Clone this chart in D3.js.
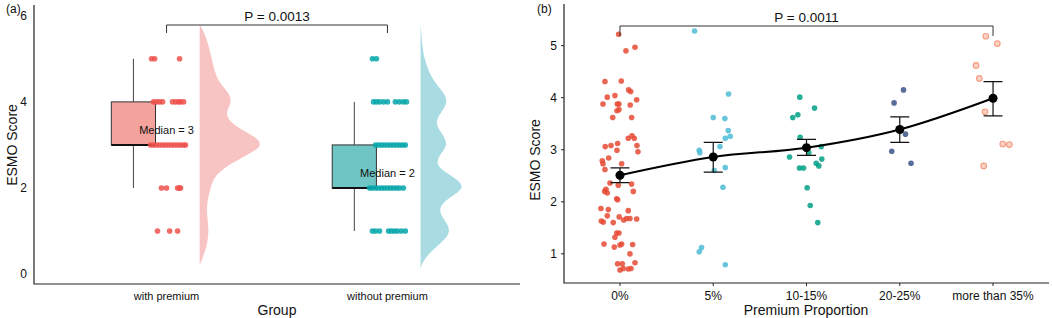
<!DOCTYPE html>
<html>
<head>
    <title>ESMO Score by Premium</title>
    <script src="https://d3js.org/d3.v7.min.js"></script>
    <style>
        body { margin: 0; background: #fff; font-family: Arial, "Liberation Sans", sans-serif; }
        svg { display: block; }
        text { fill: #111; }
        .tick-label { font-size: 11px; }
        .tick-label-b { font-size: 12px; }
        .axis-title { font-size: 14px; }
    </style>
</head>
<body>
<div id="chart"></div>
<script>
// ---------- panel (a) data ----------
const groupsA = ['with premium', 'without premium'];
const boxLow = [2, 1];
const boxQ1 = [3, 2];
const boxMedian = [3, 2];
const boxQ3 = [4, 3];
const boxHigh = [5, 4];
const yTicksA = [0, 2, 4, 6];
const pValueA = 'P = 0.0013';

// jitter (fraction of category step) for each score value
const withPremiumPts = {
    5: [-0.068, -0.054, 0.059],
    4: [-0.059, -0.045, -0.032, -0.018, 0.027, 0.041, 0.054, 0.063, 0.077],
    3: [-0.072, -0.059, -0.045, -0.032, -0.018, -0.005, 0.009, 0.023, 0.036, 0.05, 0.063, 0.077, 0.086],
    2: [-0.023, 0, 0.05, 0.059, 0.063],
    1: [-0.041, 0.014, 0.05]
};
const withoutPremiumPts = {
    5: [-0.068, -0.05],
    4: [-0.063, -0.05, -0.036, -0.018, 0, 0.036, 0.054, 0.072, 0.086],
    3: [-0.054, -0.041, -0.027, -0.014, 0, 0.014, 0.027, 0.041, 0.054, 0.068, 0.081],
    2: [-0.081, -0.068, -0.054, -0.041, -0.027, -0.014, 0, 0.014, 0.027, 0.041, 0.054, 0.072],
    1: [-0.068, -0.054, -0.036, 0.005, 0.018, 0.032, 0.045, 0.063, 0.081]
};

// half-violin densities (relative width) read at score values
const densityWithV = [0.2, 0.5, 0.75, 1, 1.25, 1.5, 1.75, 2, 2.25, 2.5, 2.75, 3, 3.25, 3.5, 3.75, 4, 4.25, 4.5, 5, 5.5, 5.8];
const densityWith  = [0, 5, 8, 9, 8, 7, 8, 11, 14, 26, 46, 66, 51, 31, 25, 33, 28, 17, 12, 7, 0];
const densityWithoutV = [0.1, 0.25, 0.5, 0.75, 1, 1.25, 1.5, 1.75, 2, 2.25, 2.5, 2.75, 3, 3.25, 3.5, 3.75, 4, 4.25, 4.5, 5, 5.5, 5.8];
const densityWithout  = [0, 1, 9, 22, 31, 24, 17, 26, 46, 34, 15, 18, 28, 22, 14, 20, 28, 22, 12, 3, 1, 0];

// ---------- panel (b) data ----------
const groupsB = ['0%', '5%', '10-15%', '20-25%', 'more than 35%'];
const meansB = [2.51, 2.86, 3.04, 3.39, 3.99];
const lowerB = [2.37, 2.57, 2.89, 3.14, 3.65];
const upperB = [2.65, 3.14, 3.20, 3.63, 4.31];
const yTicksB = [1, 2, 3, 4, 5];
const pValueB = 'P = 0.0011';

// [score, jitter as fraction of category step]
const pts0 = [[5.22,-0.014],[4.90,0.064],[4.97,0.161],[4.31,-0.161],[4.32,0.014],[4.01,-0.136],[4.04,-0.054],
    [4.15,0.093],[4.12,0.115],[3.96,0.179],[3.88,-0.182],[3.88,-0.029],[3.88,-0.011],[3.86,0.11],[3.75,-0.032],
    [3.77,-0.011],[3.62,-0.078],[3.62,0.125],[3.22,0.089],[3.27,0.129],[3.22,0.153],[3.06,-0.158],[3.08,-0.096],
    [3.12,-0.025],[3.08,0.182],[2.99,-0.032],[2.96,0.193],[2.84,-0.121],[2.79,-0.19],[2.73,-0.182],[2.73,0.018],
    [2.62,-0.161],[2.36,-0.107],[2.32,-0.018],[2.34,0.125],[2.24,-0.15],[2.20,-0.164],[2.17,-0.136],[2.20,0.143],
    [2.06,-0.035],[2.04,-0.025],[1.87,-0.204],[1.85,-0.125],[1.83,0.089],[1.73,-0.136],[1.71,-0.008],[1.68,0.107],
    [1.65,0.04],[1.68,0.072],[1.67,0.179],[1.63,-0.2],[1.61,-0.179],[1.60,-0.072],[1.40,-0.035],[1.40,-0.011],
    [1.32,-0.054],[1.17,0],[1.19,0.018],[1.13,-0.061],[1.19,-0.171],[1.18,0.136],[1.00,0.107],[0.81,-0.025],
    [0.81,0.025],[0.83,0.161],[0.69,0],[0.72,0.035],[0.71,0.089],[0.72,0.118]];
const pts5 = [[5.28,-0.2],[4.07,0.164],[3.62,0],[3.60,0.125],[3.37,0.161],[3.26,0.182],[3.22,0.129],[3.06,0.072],
    [2.99,-0.15],[2.94,-0.143],[2.60,0.011],[2.66,0.129],[2.28,0.104],[1.04,-0.15],[1.12,-0.125],[0.79,0.129]];
const pts10 = [[4.01,-0.072],[3.80,0.086],[3.62,-0.147],[3.67,-0.093],[3.24,-0.068],[3.06,0.158],[2.94,0.025],
    [2.86,-0.182],[2.82,0.164],[2.74,0.104],[2.69,0.132],[2.65,-0.075],[2.65,-0.032],[2.27,0.007],[1.93,0.04],[1.60,0.121]];
const pts20 = [[4.15,0.04],[3.90,-0.061],[3.30,0.061],[2.97,-0.086],[2.74,0.121]];
const pts35 = [[5.18,-0.078],[5.04,0.046],[4.62,-0.182],[4.37,-0.147],[3.73,-0.086],[3.11,0.104],[3.10,0.175],[2.69,-0.1]];
const pointsB = [pts0, pts5, pts10, pts20, pts35];

// ---------- drawing ----------
const W = 1052, H = 318;
const svg = d3.select('#chart').append('svg').attr('width', W).attr('height', H);

// ===== panel (a) =====
const xA = d3.scalePoint().domain(groupsA).range([34, 520]).padding(0.6);
const yA = d3.scaleLinear().domain([-0.23, 6.25]).range([284, 5]);
const stepA = xA.step();
const boxFill = ['#F4A29C', '#6EC5C4'];
const ptColorA = ['#EF514C', '#06A7AA'];
const densFill = ['#F8C4C3', '#A9DBE3'];

const gA = svg.append('g');

// densities
[[densityWithV, densityWith], [densityWithoutV, densityWithout]].forEach(([vals, ws], i) => {
    const base = xA(groupsA[i]) + 0.15 * stepA;
    const area = d3.area()
        .y(d => yA(d[0]))
        .x0(base)
        .x1(d => base + d[1])
        .curve(d3.curveBasis);
    gA.append('path')
        .datum(vals.map((v, k) => [v, ws[k]]))
        .attr('d', area)
        .attr('fill', densFill[i]);
});

// boxes
groupsA.forEach((g, i) => {
    const cx = xA(g) - 0.15 * stepA;
    const bw = 0.2 * stepA;
    gA.append('line')
        .attr('x1', cx).attr('x2', cx)
        .attr('y1', yA(boxHigh[i])).attr('y2', yA(boxQ3[i]))
        .attr('stroke', '#444').attr('stroke-width', 1);
    gA.append('line')
        .attr('x1', cx).attr('x2', cx)
        .attr('y1', yA(boxQ1[i])).attr('y2', yA(boxLow[i]))
        .attr('stroke', '#444').attr('stroke-width', 1);
    gA.append('rect')
        .attr('x', cx - bw / 2).attr('width', bw)
        .attr('y', yA(boxQ3[i])).attr('height', yA(boxQ1[i]) - yA(boxQ3[i]))
        .attr('fill', boxFill[i]).attr('stroke', '#333').attr('stroke-width', 1);
    gA.append('line')
        .attr('x1', cx - bw / 2).attr('x2', cx + bw / 2)
        .attr('y1', yA(boxMedian[i])).attr('y2', yA(boxMedian[i]))
        .attr('stroke', '#111').attr('stroke-width', 2);
});

// jittered points
[withPremiumPts, withoutPremiumPts].forEach((obj, i) => {
    const pts = [];
    Object.keys(obj).forEach(v => obj[v].forEach(j => pts.push([+v, j])));
    gA.append('g').selectAll('circle')
        .data(pts)
        .join('circle')
        .attr('cx', d => xA(groupsA[i]) + d[1] * stepA)
        .attr('cy', d => yA(d[0]))
        .attr('r', 2.8)
        .attr('fill', ptColorA[i])
        .attr('opacity', 0.85);
});

// median labels
groupsA.forEach((g, i) => {
    gA.append('text')
        .attr('class', 'tick-label')
        .attr('x', xA(g))
        .attr('y', yA(boxMedian[i]) - 11)
        .attr('text-anchor', 'middle')
        .text(`Median = ${boxMedian[i]}`);
});

// axes (a)
gA.append('path')
    .attr('d', `M34,5V284H520`)
    .attr('fill', 'none').attr('stroke', '#222').attr('stroke-width', 1.2);
gA.selectAll('.ytA').data(yTicksA).join('text')
    .attr('class', 'tick-label-b')
    .attr('x', 27).attr('y', d => yA(d) + 4)
    .attr('text-anchor', 'end')
    .text(d => d);
gA.selectAll('.xtA').data(groupsA).join('text')
    .attr('class', 'tick-label')
    .attr('x', d => xA(d)).attr('y', 300)
    .attr('text-anchor', 'middle')
    .text(d => d);
gA.append('text').attr('class', 'axis-title')
    .attr('x', 277).attr('y', 315).attr('text-anchor', 'middle').text('Group');
gA.append('text').attr('class', 'axis-title')
    .attr('transform', `translate(17,145) rotate(-90)`)
    .attr('text-anchor', 'middle').text('ESMO Score');
gA.append('text').attr('x', 6).attr('y', 13).style('font-size', '12px').text('(a)');

// bracket (a)
const bxA1 = xA(groupsA[0]), bxA2 = xA(groupsA[1]);
gA.append('path')
    .attr('d', `M${bxA1},33V25H${bxA2}V33`)
    .attr('fill', 'none').attr('stroke', '#333').attr('stroke-width', 1);
gA.append('text').attr('x', (bxA1 + bxA2) / 2).attr('y', 21)
    .attr('text-anchor', 'middle').style('font-size', '13.5px').text(pValueA);

// ===== panel (b) =====
const xB = d3.scalePoint().domain(groupsB).range([564, 1049]).padding(0.6);
const yB = d3.scaleLinear().domain([0.44, 5.8]).range([283, 4]);
const stepB = xB.step();
const npg = ['#E64B35', '#4DBBD5', '#00A087', '#3C5488', '#F39B7F'];

const gB = svg.append('g');

pointsB.forEach((pts, i) => {
    gB.append('g').selectAll('circle')
        .data(pts)
        .join('circle')
        .attr('cx', d => xB(groupsB[i]) + d[1] * stepB)
        .attr('cy', d => yB(d[0]))
        .attr('r', 2.8)
        .attr('fill', npg[i])
        .attr('fill-opacity', i === 4 ? 0.45 : 0.85)
        .attr('stroke', i === 4 ? npg[i] : 'none')
        .attr('stroke-width', 1.1);
});

// mean line, error bars, mean dots
gB.append('path')
    .datum(meansB)
    .attr('d', d3.line().x((d, i) => xB(groupsB[i])).y(d => yB(d)).curve(d3.curveMonotoneX))
    .attr('fill', 'none').attr('stroke', '#000').attr('stroke-width', 2);
groupsB.forEach((g, i) => {
    const cx = xB(g), hw = 9.5;
    gB.append('path')
        .attr('d', `M${cx - hw},${yB(upperB[i])}H${cx + hw}M${cx},${yB(upperB[i])}V${yB(lowerB[i])}M${cx - hw},${yB(lowerB[i])}H${cx + hw}`)
        .attr('fill', 'none').attr('stroke', '#111').attr('stroke-width', 1.2);
    gB.append('circle')
        .attr('cx', cx).attr('cy', yB(meansB[i])).attr('r', 4.5).attr('fill', '#000');
});

// axes (b)
gB.append('path')
    .attr('d', `M564,4V283H1049`)
    .attr('fill', 'none').attr('stroke', '#222').attr('stroke-width', 1.2);
yTicksB.forEach(t => {
    gB.append('line').attr('x1', 561).attr('x2', 564)
        .attr('y1', yB(t)).attr('y2', yB(t)).attr('stroke', '#222');
    gB.append('text').attr('class', 'tick-label-b')
        .attr('x', 557).attr('y', yB(t) + 4).attr('text-anchor', 'end').text(t);
});
groupsB.forEach(g => {
    gB.append('line').attr('x1', xB(g)).attr('x2', xB(g))
        .attr('y1', 283).attr('y2', 286).attr('stroke', '#222');
    gB.append('text').attr('class', 'tick-label-b')
        .attr('x', xB(g)).attr('y', 300).attr('text-anchor', 'middle').text(g);
});
gB.append('text').attr('class', 'axis-title')
    .attr('x', 806).attr('y', 315).attr('text-anchor', 'middle').text('Premium Proportion');
gB.append('text').attr('class', 'axis-title')
    .attr('transform', `translate(540,160) rotate(-90)`)
    .attr('text-anchor', 'middle').text('ESMO Score');
gB.append('text').attr('x', 537).attr('y', 13).style('font-size', '12px').text('(b)');

// bracket (b)
const bxB1 = xB(groupsB[0]), bxB2 = xB(groupsB[4]);
gB.append('path')
    .attr('d', `M${bxB1},36V26H${bxB2}V36`)
    .attr('fill', 'none').attr('stroke', '#333').attr('stroke-width', 1);
gB.append('text').attr('x', (bxB1 + bxB2) / 2).attr('y', 22)
    .attr('text-anchor', 'middle').style('font-size', '13.5px').text(pValueB);
</script>
</body>
</html>
